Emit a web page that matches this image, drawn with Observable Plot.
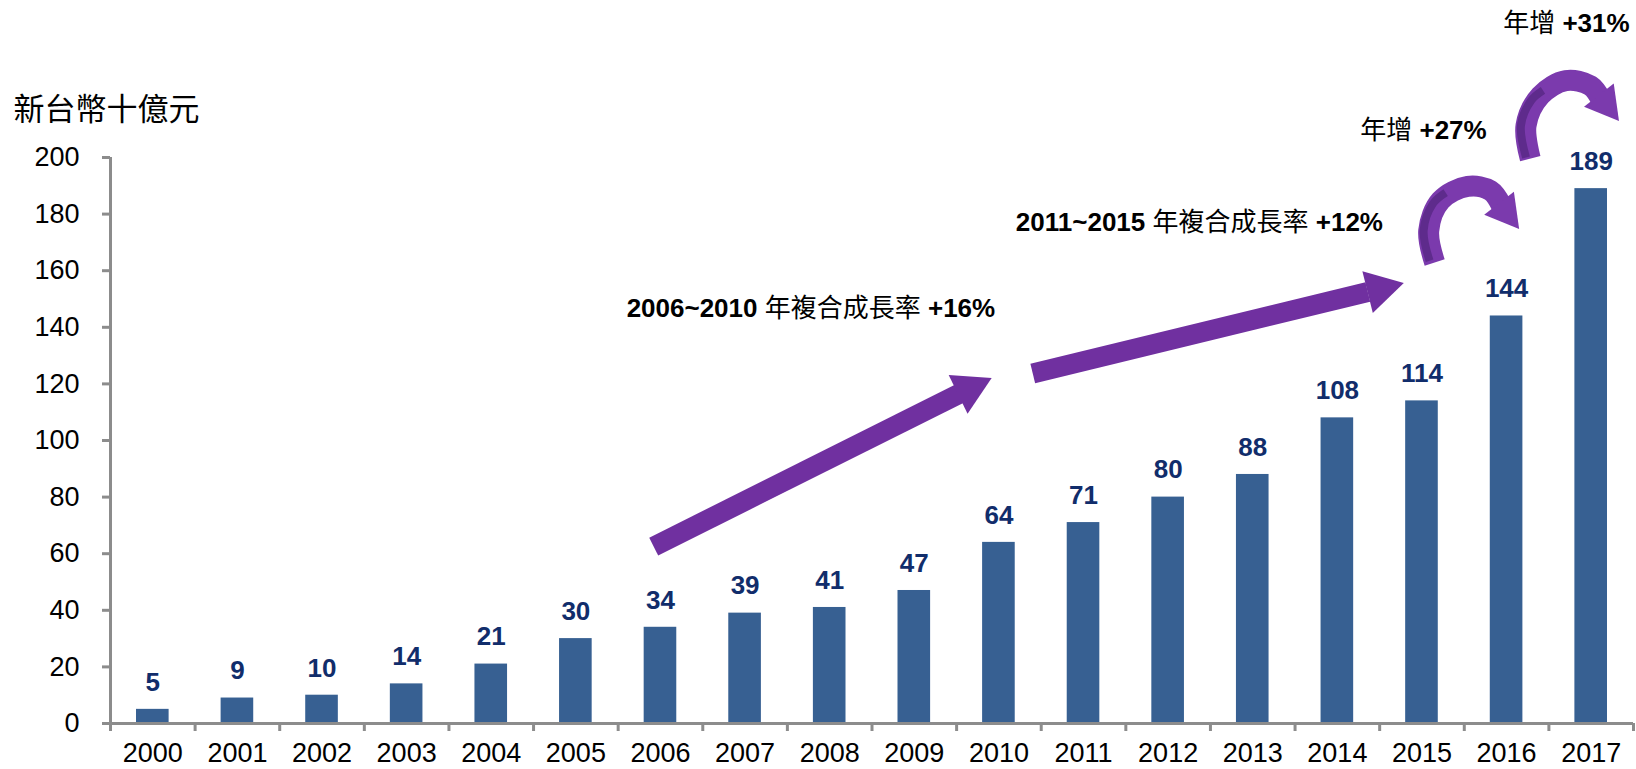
<!DOCTYPE html>
<html><head><meta charset="utf-8">
<script src="https://cdn.jsdelivr.net/npm/d3@7"></script>
<script src="https://cdn.jsdelivr.net/npm/@observablehq/plot@0.6"></script>
<style>body{margin:0;background:#fff}</style>
</head><body><div id="chart"></div>
<script>
// ---- data ----
const years = [2000,2001,2002,2003,2004,2005,2006,2007,2008,2009,2010,2011,2012,2013,2014,2015,2016,2017];
const values = [5,9,10,14,21,30,34,39,41,47,64,71,80,88,108,114,144,189];
const yTicks = [0,20,40,60,80,100,120,140,160,180,200];
const unitLabel = "新台幣十億元";

// annotation texts (anchored in data units: year, value)
const noteText = ["2006~2010 年複合成長率 +16%", "2011~2015 年複合成長率 +12%", "年增 +27%", "年增 +31%"];
const noteX = [2005.6, 2010.2, 2014.27, 2015.96];
const noteY = [146.6, 177, 209.5, 247.3];

// straight (CAGR) arrows: shaft start / end, head centre, head angle
const arrowX1 = [2005.92, 2010.40];
const arrowY1 = [62.5, 123.7];
const arrowX2 = [2009.55, 2014.36];
const arrowY2 = [116.8, 152.5];
const headX = [2009.65, 2014.50];
const headY = [118.2, 153.5];
const headAngle = [64, 76];

// curved (YoY) arrows: path points
const curveId = ["a","a","a","a","a","a","b","b","b","b","b","b"];
const curveX = [2015.15,2015.08,2015.22,2015.54,2015.81,2015.94, 2016.28,2016.23,2016.40,2016.70,2016.99,2017.12];
const curveY = [162.9,174.2,184.8,189.8,188.3,183.0, 199.6,211.3,221.9,227.2,225.4,220.3];
// darker twisted band on the tail of each curved arrow
const shadeId = ["a","a","a","a","b","b","b","b"];
const shadeX = [2015.09,2015.02,2015.13,2015.28, 2016.23,2016.17,2016.29,2016.43];
const shadeY = [163.5,174.2,183.7,187.6, 200.0,211.3,220.1,223.7];
const curveHeadX = [2015.99, 2017.17];
const curveHeadY = [180.8, 219.0];
const curveHeadAngle = [142, 142];

// ---- build ----
const FONT = '"Liberation Sans", Arial, "Noto Sans CJK TC", sans-serif';
const bars = years.map((year, i) => ({year, value: values[i]}));
const bounds = years.map(y => y - 0.5).concat([years[years.length - 1] + 0.5]);
const notes = noteText.map((t, i) => ({t, x: noteX[i], y: noteY[i]}));
const arrows = arrowX1.map((x1, i) => ({x1, y1: arrowY1[i], x2: arrowX2[i], y2: arrowY2[i]}));
const heads = headX.map((x, i) => ({x, y: headY[i], a: headAngle[i]}));
const curves = curveX.map((x, i) => ({id: curveId[i], x, y: curveY[i]}));
const shades = shadeX.map((x, i) => ({id: shadeId[i], x, y: shadeY[i]}));
const cheads = curveHeadX.map((x, i) => ({x, y: curveHeadY[i], a: curveHeadAngle[i]}));

const AXIS = "#8c8c8c";
const BAR = "#376092";
const NAVY = "#112d6b";
const PURPLE = "#7030a0";
const PURPLE2 = "#7b3aad";
const PURPLE_DARK = "#5e2b8c";

const chart = Plot.plot({
  width: 1636, height: 769,
  marginLeft: 110, marginRight: 3, marginTop: 157, marginBottom: 46,
  x: {type: "linear", domain: [1999.5, 2017.5]},
  y: {domain: [0, 200]},
  style: {fontFamily: FONT, fontSize: "27px", color: "black", background: "white", overflow: "visible"},
  marks: [
    Plot.rectY(bars, {x1: d => d.year - 0.5, x2: d => d.year + 0.5, y: "value", fill: BAR, insetLeft: 26, insetRight: 26}),
    Plot.text(bars, {x: "year", y: "value", text: d => String(d.value), dy: -27, fill: NAVY, fontWeight: "bold", fontSize: 26}),
    Plot.axisY({ticks: yTicks, tickSize: 8, tickPadding: 23, stroke: AXIS, strokeWidth: 3, fill: "black", fontSize: 27, label: null}),
    Plot.axisX({ticks: bounds, tickSize: 8, tickFormat: () => "", stroke: AXIS, strokeWidth: 3, label: null}),
    Plot.axisX({ticks: years, tickSize: 0, tickPadding: 19, tickFormat: d => String(d), fill: "black", fontSize: 27, label: null}),
    Plot.ruleX([1999.5], {stroke: AXIS, strokeWidth: 3}),
    Plot.ruleY([0], {stroke: AXIS, strokeWidth: 3}),
    // straight arrows
    Plot.link(arrows, {x1: "x1", y1: "y1", x2: "x2", y2: "y2", stroke: PURPLE, strokeWidth: 20}),
    Plot.dot(heads, {x: "x", y: "y", symbol: "triangle", r: 16, rotate: "a", fill: PURPLE, stroke: null}),
    // curved arrows
    Plot.line(curves, {x: "x", y: "y", z: "id", curve: "catmull-rom", stroke: PURPLE2, strokeWidth: 21, strokeLinecap: "butt"}),
    Plot.line(shades, {x: "x", y: "y", z: "id", curve: "catmull-rom", stroke: PURPLE_DARK, strokeWidth: 8, strokeLinecap: "butt"}),
    Plot.dot(cheads, {x: "x", y: "y", symbol: "triangle", r: 14, rotate: "a", fill: PURPLE2, stroke: null}),
    // annotations
    Plot.text(notes, {x: "x", y: "y", text: "t", textAnchor: "start", fill: "black", fontSize: 26}),
    Plot.text([unitLabel], {frameAnchor: "top-left", dx: -97, dy: -60, textAnchor: "start", fill: "black", fontSize: 31})
  ]
});

// bold the Latin parts of the annotation texts, CJK parts stay regular
chart.querySelectorAll("text").forEach(el => {
  const s = el.textContent;
  if (!/年/.test(s) || el.querySelector("tspan")) return;
  el.textContent = "";
  s.split(/([\u3000-\u9fff]+)/).filter(p => p.length).forEach(p => {
    const ts = document.createElementNS("http://www.w3.org/2000/svg", "tspan");
    ts.textContent = p;
    if (!/[\u3000-\u9fff]/.test(p)) ts.setAttribute("font-weight", "bold");
    el.appendChild(ts);
  });
});

document.getElementById("chart").appendChild(chart);
</script>
</body></html>
